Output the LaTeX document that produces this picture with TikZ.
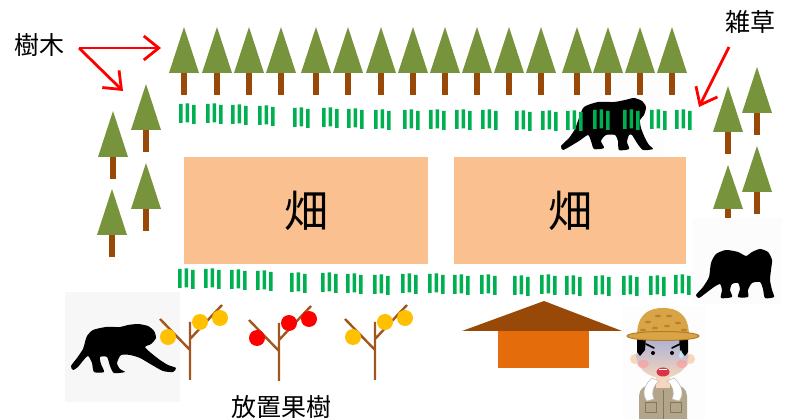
\documentclass[tikz,border=0pt]{standalone}
\usepackage{fontspec}
\newfontfamily\jp{Noto Sans CJK JP}
\usetikzlibrary{arrows.meta}

\definecolor{pinegreen}{HTML}{77933C}
\definecolor{trunkbrown}{HTML}{984807}
\definecolor{weed}{HTML}{00B050}
\definecolor{fieldorange}{HTML}{FAC090}
\definecolor{roofbrown}{HTML}{984807}
\definecolor{houseorange}{HTML}{E46C0A}
\definecolor{branchbrown}{HTML}{A0561E}
\definecolor{fruityellow}{HTML}{FFC000}
\definecolor{fruitred}{HTML}{FF0000}
\definecolor{photobg}{HTML}{F7F7F7}
\definecolor{hatstraw}{HTML}{D9A445}
\definecolor{hatedge}{HTML}{B97A26}
\definecolor{hatspot}{HTML}{B8812E}
\definecolor{facetop}{HTML}{A3ADD8}
\definecolor{faceskin}{HTML}{F6D6BC}
\definecolor{coat}{HTML}{B3A589}
\definecolor{coatline}{HTML}{857859}
\definecolor{mouthred}{HTML}{D8344A}

\tikzset{
  pics/pine/.style={code={
    \fill[pinegreen] (0,0) -- (15,46) -- (-15,46) -- cycle;
    \fill[trunkbrown] (-3,46) rectangle (3,68);
  }},
  pics/weeds/.style={code={
    \fill[weed] (0,0) rectangle (3.6,19)
                (6.5,-0.5) rectangle (10.1,18.5)
                (13,0.8) rectangle (16.6,19.8);
  }},
  pics/fruittree/.style={code={
    \draw[branchbrown, line width=2.4pt]
      (0,0) -- (0,58)
      (-30,-3) -- (0,28)
      (0,17) -- (32,-17);
    \fill[#1] (-22,15) circle[radius=8pt]
              (10,0) circle[radius=8pt]
              (30,-4) circle[radius=8pt];
  }},
  label/.style={font=\jp\fontsize{25}{25}\selectfont, inner sep=0pt},
  plot/.style={fill=fieldorange, minimum width=244pt, minimum height=107pt,
    inner sep=0pt, font=\jp\fontsize{44}{44}\selectfont},
  pointer/.style={red, line width=2.8pt,
    -{Straight Barb[length=15pt, width=24pt, line width=2.8pt]}},
  monkey/.style={fill=black},
}

\begin{document}
\begin{tikzpicture}[x=1pt, y=-1pt]
\useasboundingbox (0,0) rectangle (790,419);

% light backdrops behind the photos
\fill[photobg!25] (560,73) rectangle (664,156);
\fill[photobg] (65,292) rectangle (180,402);
\fill[photobg!40] (692,218) rectangle (782,304);
\fill[photobg!30] (622,306) rectangle (706,419);

% forest edge: top row
\foreach \x in {184,217,249,281,316,348,381,413,445,477,509,541,577,608,640,672}
  \pic at (\x,27) {pine};
% forest edge: left and right groups
\foreach \x/\y in {146/84, 113/111, 146/163, 112/189, 757/67, 728/86, 757/146}
  \pic at (\x,\y) {pine};
\fill[pinegreen] (728,165) -- (743,209) -- (713,209) -- cycle;
\fill[trunkbrown] (725,209) rectangle (731,218);

% monkey crossing the upper weeds
\fill[monkey] plot[smooth cycle, tension=0.4] coordinates {
  (579,118) (584,107) (598,102) (614,102) (625,100) (634,98) (642,101)
  (646,107) (644,115) (640,120) (641,128) (645,138) (649,145) (653,149)
  (643,150) (637,143) (632,135) (629,135) (627,142) (629,149) (619,150)
  (618,141) (615,135) (606,135) (601,141) (604,148) (594,149) (591,141)
  (588,135) (579,141) (569,147) (563,150) (561,146) (569,138) (575,129)};

% monkey on the left
\fill[monkey] plot[smooth cycle, tension=0.4] coordinates {
  (87,336) (93,330) (106,327) (120,327) (128,325) (138,324) (148,326)
  (154,331) (156,338) (151,344) (145,347) (151,353) (160,360) (168,365)
  (176,368) (173,372) (163,371) (152,365) (140,358) (130,355) (121,355)
  (117,363) (120,369) (125,372) (114,373) (110,366) (107,357) (100,357)
  (101,364) (104,372) (94,372) (92,363) (88,356) (82,362) (78,367)
  (73,370) (71,366) (77,358) (83,349) (85,342)};

% monkey on the right
\fill[monkey] plot[smooth cycle, tension=0.4] coordinates {
  (711,263) (716,254) (726,250) (738,252) (746,256) (752,252) (760,249)
  (768,252) (772,260) (771,270) (770,280) (772,290) (774,297) (765,298)
  (763,289) (760,282) (752,283) (748,290) (748,297) (738,297) (740,289)
  (738,283) (732,284) (730,290) (732,297) (721,298) (722,290) (720,284)
  (714,287) (706,293) (699,298) (696,295) (703,287) (709,277)};

% weeds along the upper edge of the fields
\foreach \x/\y in {179/104, 206/104, 231/105, 258/106, 293/108, 322/108,
    347/109, 374/110, 403/110, 429/110, 455/110, 481/110, 515/111,
    541/111, 566/111, 593/110, 623/110, 650/110, 675/110}
  \pic at (\x,\y) {weeds};
% weeds along the lower edge of the fields
\foreach \x/\y in {178/269, 204/269, 230/270, 256/271, 290/273, 321/273,
    346/274, 373/275, 401/274, 428/274, 453/275, 480/275, 513/276,
    540/275, 565/276, 594/276, 622/276, 649/276, 674/275}
  \pic at (\x,\y) {weeds};

% the two fields
\node[plot] (field1) at (306,210.5) {畑};
\node[plot, minimum width=232pt] (field2) at (570,210.5) {畑};

% abandoned fruit trees
\pic at (190,322) {fruittree=fruityellow};
\pic at (279,323) {fruittree=fruitred};
\pic at (375,322) {fruittree=fruityellow};

% hut
\fill[roofbrown] (462,331) -- (544,301) -- (622,331) -- cycle;
\fill[houseorange] (498,331) rectangle (589,368);

% worried farmer
\fill[coat] (639,419) -- (639,396) .. controls (639,389) and (645,385) .. (652,384)
  -- (674,384) .. controls (681,385) and (687,389) .. (687,396) -- (687,419) -- cycle;
\draw[coatline, line width=0.8pt] (663,390) -- (663,419)
  (645,402) rectangle (656,412) (670,402) rectangle (681,412);
\fill[faceskin] (656,372) rectangle (670,388);
\filldraw[fill=white, draw=black!25, line width=0.6pt]
  (652,378) .. controls (643,386) and (642,395) .. (647,401) -- (654,399)
  .. controls (651,392) and (653,386) .. (659,381) -- cycle;
\filldraw[fill=white, draw=black!25, line width=0.6pt]
  (674,378) .. controls (683,386) and (684,395) .. (679,401) -- (672,399)
  .. controls (675,392) and (673,386) .. (667,381) -- cycle;
\fill[faceskin] (635,359) circle[radius=5pt] (690,359) circle[radius=5pt];
\shade[top color=facetop, bottom color=faceskin, middle color=facetop!50!faceskin]
  (662.5,356) ellipse[x radius=26pt, y radius=22pt];
\fill[black] (637,337) -- (646,337) -- (645,350) -- (640,356) -- (637,352) -- cycle;
\fill[black] (688,337) -- (679,337) -- (680,350) -- (685,356) -- (688,352) -- cycle;
\fill[hatstraw] (637,336) .. controls (637,313) and (650,308) .. (663,308)
  .. controls (676,308) and (689,313) .. (689,336) -- cycle;
\foreach \x/\y in {648/322, 658/316, 669/316, 678/323, 655/328, 667/326, 684/330, 643/330}
  \fill[hatspot] (\x,\y) ellipse[x radius=3pt, y radius=1.3pt];
\filldraw[fill=hatstraw, draw=hatedge, line width=1pt]
  (663,336) ellipse[x radius=36pt, y radius=4.5pt];
\draw[black, line width=1.6pt, line cap=round] (646,344) -- (654,348) (680,344) -- (672,348);
\fill[black] (653,353) circle[radius=2pt] (672,353) circle[radius=2pt];
\fill[red!40, opacity=0.6] (643,364) ellipse[x radius=6pt, y radius=4pt]
  (682,364) ellipse[x radius=6pt, y radius=4pt];
\fill[mouthred] (663,372) ellipse[x radius=6.5pt, y radius=4.5pt];
\fill[white] (659,369) rectangle (667,370.5);
\fill[cyan!25] (681,350) .. controls (679,355) and (678,358) .. (681,358)
  .. controls (684,358) and (683,355) .. (681,350) -- cycle;

% labels and pointers
\node[label] (trees) at (39,45) {樹木};
\node[label] (weedslabel) at (750,22) {雑草};
\node[label] (orchard) at (281,407) {放置果樹};
\coordinate (treesfork) at (79,48);
\coordinate (toprow) at (161,48);
\coordinate (leftgroup) at (123,91);
\coordinate (weedstail) at (729,47);
\coordinate (weedshead) at (699,107);
\draw[pointer] (treesfork) -- (toprow);
\draw[pointer] (treesfork) -- (leftgroup);
\draw[pointer] (weedstail) -- (weedshead);
\end{tikzpicture}
\end{document}
